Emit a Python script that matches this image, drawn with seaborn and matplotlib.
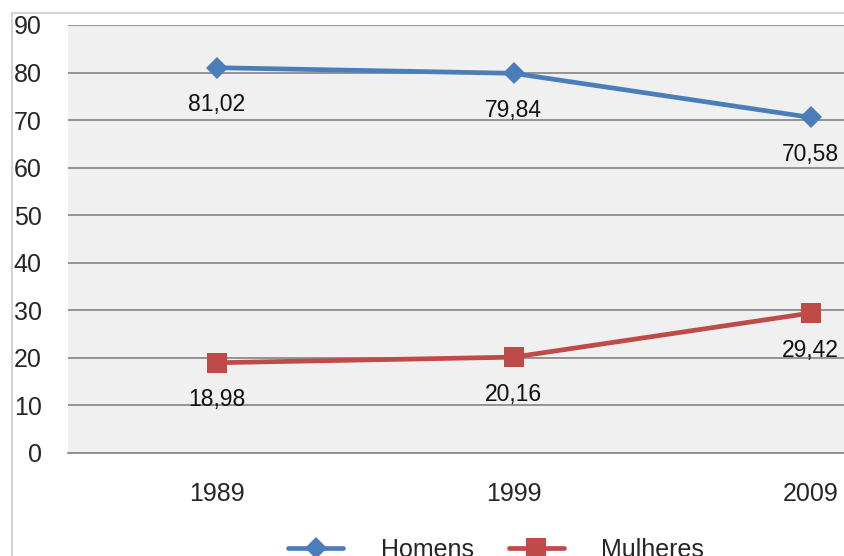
import matplotlib.pyplot as plt
import matplotlib.patches as patches
import seaborn as sns
import pandas as pd

# data
anos = ['1989', '1999', '2009']
homens = [81.02, 79.84, 70.58]
mulheres = [18.98, 20.16, 29.42]
yticks = list(range(0, 100, 10))

df = pd.DataFrame({'ano': anos * 2,
                   'valor': homens + mulheres,
                   'sexo': ['Homens'] * 3 + ['Mulheres'] * 3})

sns.set_theme(style='white')
plt.rcParams['font.family'] = ['Liberation Sans', 'DejaVu Sans']

fig = plt.figure(figsize=(8.44, 5.56), dpi=100)
ax = fig.add_axes([68 / 844, 1 - 453 / 556, 1 - 68 / 844, (453 - 25) / 556])
ax.set_facecolor('#f0f0f0')

cores = {'Homens': '#4a7ebb', 'Mulheres': '#be4b48'}
marcadores = {'Homens': 'D', 'Mulheres': 's'}
tamanhos = {'Homens': 11.5, 'Mulheres': 15}

for sexo, g in df.groupby('sexo'):
    sns.lineplot(data=g, x='ano', y='valor', ax=ax, color=cores[sexo],
                 marker=marcadores[sexo], markersize=tamanhos[sexo],
                 markeredgewidth=0, linewidth=3.4, label=sexo, sort=False)
    for i, v in enumerate(g['valor']):
        ax.annotate(f'{v:.2f}'.replace('.', ','), (i, v), xytext=(0, -37),
                    textcoords='offset pixels', ha='center', va='center',
                    fontsize=16.5, color='#111111')

ax.set_xlim(-0.5, -0.5 + 776 / 297)
ax.set_ylim(0, 90)
ax.set_yticks(yticks)
ax.grid(axis='y', color='#8c8c8c', linewidth=1.3)
ax.set_axisbelow(True)
for s in ['top', 'right', 'left']:
    ax.spines[s].set_visible(False)
ax.spines['bottom'].set_color('#8c8c8c')
ax.spines['bottom'].set_linewidth(1.3)
ax.tick_params(axis='y', length=0, pad=19, labelsize=18, labelcolor='#262626')
ax.tick_params(axis='x', length=0, pad=21, labelsize=18, labelcolor='#262626')
ax.set_xlabel('')
ax.set_ylabel('')

ax.get_legend().remove()
h, l = ax.get_legend_handles_labels()
fig.legend(h, l, loc='center', bbox_to_anchor=(496 / 844, 1 - 550 / 556),
           ncol=2, frameon=False, fontsize=18, handlelength=2.2,
           handletextpad=1.5, columnspacing=1.4)

# moldura do gráfico
fig.add_artist(patches.Rectangle((12 / 844, -0.1), 2, 1.1 - 13 / 556,
                                 transform=fig.transFigure, fill=False,
                                 edgecolor='#d4d4d4', linewidth=1.5))

fig.savefig('out.png', dpi=100)
